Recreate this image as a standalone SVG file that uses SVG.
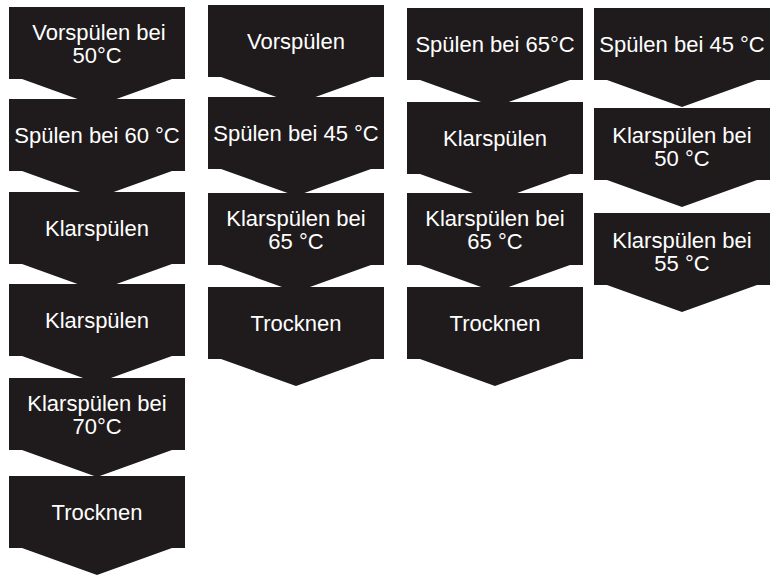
<svg xmlns="http://www.w3.org/2000/svg" xmlns:xlink="http://www.w3.org/1999/xlink" width="776" height="578" viewBox="0 0 776 578">
<style>
  .box { fill: #1f1b1c; }
  .t { fill: #ffffff; font-family: "Liberation Sans", Arial, sans-serif; font-size: 22px; text-anchor: middle; }
</style>
<defs>
  <path id="chev" d="M0,0 H176 V72 H163 L88,99 L13,72 H0 Z"/>
</defs>
<rect width="776" height="578" fill="#ffffff"/>

<!-- Column 1 -->
<g id="c1n1"><use xlink:href="#chev" class="box" x="9" y="7"/><text class="t" x="99" y="40">Vorspülen bei</text><text class="t" x="97" y="63">50°C</text></g>
<g id="c1n2"><use xlink:href="#chev" class="box" x="9" y="99"/><text class="t" x="97" y="143">Spülen bei 60 °C</text></g>
<g id="c1n3"><use xlink:href="#chev" class="box" x="9" y="192"/><text class="t" x="97" y="236">Klarspülen</text></g>
<g id="c1n4"><use xlink:href="#chev" class="box" x="9" y="284"/><text class="t" x="97" y="328">Klarspülen</text></g>
<g id="c1n5"><use xlink:href="#chev" class="box" x="9" y="378"/><text class="t" x="97" y="411">Klarspülen bei</text><text class="t" x="97" y="434">70°C</text></g>
<g id="c1n6"><use xlink:href="#chev" class="box" x="9" y="476"/><text class="t" x="97" y="520">Trocknen</text></g>

<!-- Column 2 -->
<g id="c2n1"><use xlink:href="#chev" class="box" x="208" y="5"/><text class="t" x="296" y="49">Vorspülen</text></g>
<g id="c2n2"><use xlink:href="#chev" class="box" x="208" y="97"/><text class="t" x="296" y="141">Spülen bei 45 °C</text></g>
<g id="c2n3"><use xlink:href="#chev" class="box" x="208" y="193"/><text class="t" x="296" y="226">Klarspülen bei</text><text class="t" x="296" y="249">65 °C</text></g>
<g id="c2n4"><use xlink:href="#chev" class="box" x="208" y="287"/><text class="t" x="296" y="331">Trocknen</text></g>

<!-- Column 3 -->
<g id="c3n1"><use xlink:href="#chev" class="box" x="407" y="8"/><text class="t" x="495" y="52">Spülen bei 65°C</text></g>
<g id="c3n2"><use xlink:href="#chev" class="box" x="407" y="102"/><text class="t" x="495" y="146">Klarspülen</text></g>
<g id="c3n3"><use xlink:href="#chev" class="box" x="407" y="193"/><text class="t" x="495" y="226">Klarspülen bei</text><text class="t" x="495" y="249">65 °C</text></g>
<g id="c3n4"><use xlink:href="#chev" class="box" x="407" y="287"/><text class="t" x="495" y="331">Trocknen</text></g>

<!-- Column 4 -->
<g id="c4n1"><use xlink:href="#chev" class="box" x="594" y="8"/><text class="t" x="682" y="52">Spülen bei 45 °C</text></g>
<g id="c4n2"><use xlink:href="#chev" class="box" x="594" y="108"/><text class="t" x="682" y="143">Klarspülen bei</text><text class="t" x="682" y="166">50 °C</text></g>
<g id="c4n3"><use xlink:href="#chev" class="box" x="594" y="213"/><text class="t" x="682" y="248">Klarspülen bei</text><text class="t" x="682" y="271">55 °C</text></g>
</svg>
